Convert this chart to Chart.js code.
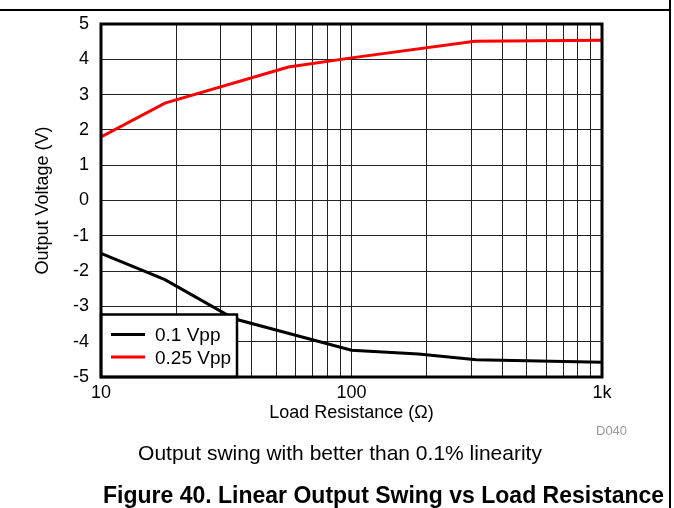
<!DOCTYPE html>
<html>
<head>
<meta charset="utf-8">
<script src="https://cdn.jsdelivr.net/npm/chart.js@4/dist/chart.umd.min.js"></script>
<style>
  body { margin: 0; background: #fff; }
  #wrap { position: relative; width: 674px; height: 508px; overflow: hidden; font-family: Arial, "Liberation Sans", sans-serif; }
  #chart { position: absolute; left: 0; top: 0; }
  .txt { position: absolute; white-space: nowrap; color: #000; line-height: 1; }
</style>
</head>
<body>
<div id="wrap">
  <canvas id="chart" width="674" height="508"></canvas>
  <div style="position:absolute;left:0;top:9px;width:671px;border-top:2px solid #000"></div>
  <div style="position:absolute;left:669px;top:0;height:508px;border-left:2px solid #000"></div>
  <div class="txt" style="left:596px;top:424px;font-size:13px;color:#999">D040</div>
  <div class="txt" style="left:0;width:680px;text-align:center;top:442px;font-size:21px">Output swing with better than 0.1% linearity</div>
  <div class="txt" style="left:103px;top:484px;font-size:23px;font-weight:bold">Figure 40. Linear Output Swing vs Load Resistance</div>
</div>
<script>
// Load resistance (ohm) and output voltage (V)
const loadA = [10, 18, 34, 100, 185, 315, 1000];
const swing01 = [-1.50, -2.24, -3.35, -4.24, -4.35, -4.51, -4.58];

const loadB = [10, 18, 56, 100, 310, 1000];
const swing025 = [1.80, 2.76, 3.78, 4.04, 4.51, 4.54];

const seriesNames = ['0.1 Vpp', '0.25 Vpp'];
const seriesColors = ['#000000', '#ff0000'];

// grid lines on the log axis, and the ones that get a label
const xGrid = [10, 20, 30, 40, 50, 60, 70, 80, 90, 100, 200, 300, 400, 500, 600, 700, 800, 900, 1000];
const xLabelValues = [10, 100, 1000];
const xLabelText = ['10', '100', '1k'];

const FONT = 'Arial, "Liberation Sans", sans-serif';

// box round the plot + the legend in the bottom-left corner
const framePlugin = {
  id: 'frame',
  afterDatasetsDraw(chart) {
    const ctx = chart.ctx;
    const a = chart.chartArea;
    ctx.save();
    // legend
    const lx = a.left, ly = 314.5, lw = 136, lh = a.bottom - 314.5;
    ctx.fillStyle = '#fff';
    ctx.fillRect(lx, ly, lw, lh);
    ctx.lineWidth = 2.5;
    ctx.strokeStyle = '#000';
    ctx.strokeRect(lx, ly, lw, lh);
    chart.data.datasets.forEach((ds, i) => {
      const y = ly + 20 + i * 22.5;
      ctx.beginPath();
      ctx.strokeStyle = ds.borderColor;
      ctx.lineWidth = 3;
      ctx.moveTo(lx + 10, y);
      ctx.lineTo(lx + 44, y);
      ctx.stroke();
      ctx.fillStyle = '#000';
      ctx.font = '19px ' + FONT;
      ctx.textBaseline = 'middle';
      ctx.fillText(ds.label, lx + 54, y + 1.5);
    });
    // plot border
    ctx.lineWidth = 3;
    ctx.strokeStyle = '#000';
    ctx.strokeRect(a.left, a.top, a.right - a.left, a.bottom - a.top);
    ctx.restore();
  }
};

const ctx = document.getElementById('chart').getContext('2d');
new Chart(ctx, {
  type: 'line',
  data: {
    datasets: [
      {
        label: seriesNames[0],
        data: loadA.map((x, i) => ({ x: x, y: swing01[i] })),
        borderColor: seriesColors[0],
        borderWidth: 3,
        pointRadius: 0,
        tension: 0,
        fill: false,
      },
      {
        label: seriesNames[1],
        data: loadB.map((x, i) => ({ x: x, y: swing025[i] })),
        borderColor: seriesColors[1],
        borderWidth: 3,
        pointRadius: 0,
        tension: 0,
        fill: false,
      },
    ],
  },
  options: {
    responsive: false,
    animation: false,
    devicePixelRatio: 1,
    layout: { padding: { top: 24, right: 72, bottom: 0, left: 0 } },
    plugins: {
      legend: { display: false },
      tooltip: { enabled: false },
    },
    scales: {
      x: {
        type: 'logarithmic',
        min: 10,
        max: 1000,
        afterBuildTicks: (s) => { s.ticks = xGrid.map(v => ({ value: v })); },
        afterFit: (s) => { s.height = 131; },
        grid: { color: '#222', lineWidth: 1, drawTicks: false },
        border: { display: false },
        ticks: {
          autoSkip: false,
          maxRotation: 0,
          padding: 5,
          color: '#000',
          font: { family: FONT, size: 18 },
          callback: (v) => {
            const k = xLabelValues.indexOf(v);
            return k >= 0 ? xLabelText[k] : '';
          },
        },
        title: {
          display: true,
          text: 'Load Resistance (\u03a9)',
          color: '#000',
          font: { family: FONT, size: 18 },
          padding: { top: 0, bottom: 84 },
        },
      },
      y: {
        min: -5,
        max: 5,
        afterFit: (s) => { s.width = 101; },
        grid: { color: '#222', lineWidth: 1, drawTicks: false },
        border: { display: false },
        ticks: {
          stepSize: 1,
          padding: 12,
          color: '#000',
          font: { family: FONT, size: 18 },
        },
        title: {
          display: true,
          text: 'Output Voltage (V)',
          color: '#000',
          font: { family: FONT, size: 18 },
          padding: { top: 32, bottom: 0 },
        },
      },
    },
  },
  plugins: [framePlugin],
});
</script>
</body>
</html>
